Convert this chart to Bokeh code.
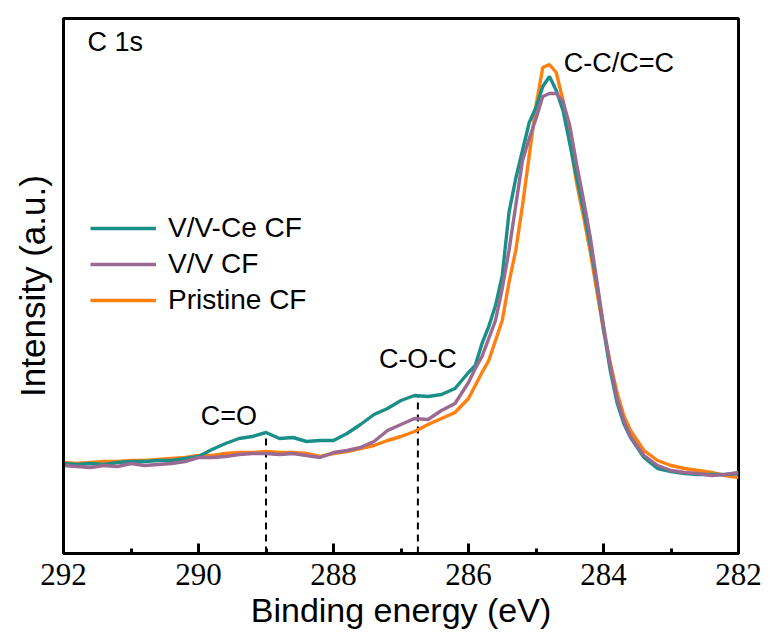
from bokeh.plotting import figure
from bokeh.models import Range1d, FixedTicker, Legend, LegendItem, Label, Segment, ColumnDataSource
from bokeh.embed import file_html
from bokeh.resources import INLINE

# ---- data ----
energy = [292.0, 291.8, 291.6, 291.4, 291.2, 291.0, 290.8, 290.6, 290.4, 290.2,
          290.0, 289.8, 289.6, 289.4, 289.2, 289.0, 288.8, 288.6, 288.4, 288.2,
          288.0, 287.8, 287.6, 287.4, 287.2, 287.0, 286.8, 286.6, 286.4, 286.2,
          286.0, 285.9, 285.8, 285.7, 285.6, 285.5, 285.4, 285.3, 285.2, 285.1,
          285.0, 284.9, 284.8, 284.7, 284.6, 284.5, 284.4, 284.3, 284.2, 284.1,
          284.0, 283.9, 283.8, 283.7, 283.6, 283.4, 283.2, 283.0, 282.8, 282.6,
          282.4, 282.2, 282.0]

v_ce_cf = [90, 89, 90, 89, 91, 92, 92, 93, 93, 95,
           97, 104, 110, 115, 117, 121, 115, 116, 112, 113,
           113, 120, 129, 139, 145, 153, 158, 157, 159, 165,
           181, 188, 210, 227, 248, 278, 341, 375, 403, 431,
           446, 467, 477, 463, 443, 410, 377, 345, 310, 270,
           225, 183, 151, 130, 116, 96, 85, 82, 80, 79,
           79, 79, 80]

v_cf = [88, 87, 86, 88, 87, 90, 88, 89, 90, 92,
        96, 96, 97, 99, 100, 100, 99, 100, 98, 96,
        101, 103, 106, 112, 123, 129, 135, 134, 143, 150,
        171, 185, 197, 215, 233, 265, 303, 348, 393, 415,
        435, 457, 460, 460, 452, 428, 390, 355, 318, 273,
        228, 188, 155, 133, 117, 98, 88, 83, 81, 80,
        78, 79, 81]

pristine_cf = [91, 90, 91, 92, 92, 93, 93, 94, 95, 96,
               98, 98, 100, 101, 101, 102, 101, 101, 100, 97,
               100, 102, 105, 108, 113, 117, 122, 129, 135, 141,
               155, 168, 181, 193, 213, 233, 271, 303, 348, 398,
               448, 486, 489, 481, 453, 413, 371, 338, 303, 263,
               223, 191, 161, 138, 123, 103, 93, 88, 85, 83,
               81, 78, 76]

series_names = ["V/V-Ce CF", "V/V CF", "Pristine CF"]
series_colors = ["#1a8f89", "#9a6a93", "#ff8010"]

peak_pos = [289.0, 286.75]
peak_top = [121, 159]
peak_names = ["C=O", "C-O-C"]

x_ticks = [292, 290, 288, 286, 284, 282]
x_minor = [291, 289, 287, 285, 283]

FONT = "Liberation Sans"
NARROW = "Liberation Sans Narrow"

p = figure(width=770, height=642, output_backend="svg", toolbar_location=None,
           x_range=Range1d(292, 282), y_range=Range1d(0, 535),
           min_border_left=63, min_border_right=32, min_border_top=18, min_border_bottom=89)
p.background_fill_color = "white"
p.border_fill_color = "white"
p.grid.visible = False
p.outline_line_color = "black"
p.outline_line_width = 3

# x axis
xa = p.xaxis[0]
xa.ticker = FixedTicker(ticks=x_ticks, minor_ticks=x_minor)
xa.axis_line_color = "black"
xa.axis_line_width = 3
xa.major_tick_in = 10
xa.major_tick_out = 0
xa.minor_tick_in = 5
xa.minor_tick_out = 0
xa.major_tick_line_width = 3
xa.minor_tick_line_width = 3
xa.major_label_text_font = NARROW
xa.major_label_text_font_size = "31px"
xa.major_label_text_color = "black"
xa.major_label_standoff = 10
xa.axis_label = "Binding energy (eV)"
xa.axis_label_text_font = FONT
xa.axis_label_text_font_size = "34px"
xa.axis_label_text_font_style = "normal"
xa.axis_label_text_color = "black"
xa.axis_label_standoff = 3

# y axis
ya = p.yaxis[0]
ya.ticker = FixedTicker(ticks=[])
ya.axis_line_color = "black"
ya.axis_line_width = 3
ya.major_label_text_font_size = "0px"
ya.axis_label = "Intensity (a.u.)"
ya.axis_label_text_font = FONT
ya.axis_label_text_font_size = "35px"
ya.axis_label_text_font_style = "normal"
ya.axis_label_text_color = "black"
ya.axis_label_standoff = 12

# dashed reference lines
dsrc = ColumnDataSource(dict(x=peak_pos, y0=[0, 0], y1=peak_top))
p.add_glyph(dsrc, Segment(x0="x", y0="y0", x1="x", y1="y1",
                          line_color="black", line_width=2, line_dash="7 5"))

# curves (drawn so that purple is on top)
r_p = p.line(energy, pristine_cf, line_color=series_colors[2], line_width=3.4)
r_t = p.line(energy, v_ce_cf, line_color=series_colors[0], line_width=3.4)
r_v = p.line(energy, v_cf, line_color=series_colors[1], line_width=3.4)

legend = Legend(items=[LegendItem(label=series_names[0], renderers=[r_t]),
                       LegendItem(label=series_names[1], renderers=[r_v]),
                       LegendItem(label=series_names[2], renderers=[r_p])],
                location=(27, 237), orientation="vertical",
                glyph_width=66, glyph_height=30, label_height=30, spacing=4,
                label_standoff=12, padding=0, margin=0,
                label_text_font=FONT, label_text_font_size="28px",
                label_text_color="black",
                border_line_alpha=0, background_fill_alpha=0)
p.add_layout(legend)

# annotations
ANN = "27px"
p.add_layout(Label(x=24, y=512, x_units="screen", y_units="screen", text="C 1s",
                   text_font=FONT, text_font_size=ANN, text_color="black",
                   text_baseline="alphabetic"))
p.add_layout(Label(x=284.9, y=491, text="C-C/C=C", x_offset=21,
                   text_font=FONT, text_font_size=ANN, text_color="black",
                   text_baseline="alphabetic"))
p.add_layout(Label(x=289.55, y=138, text=peak_names[0], text_align="center",
                   text_font=FONT, text_font_size=ANN, text_color="black",
                   text_baseline="alphabetic"))
p.add_layout(Label(x=peak_pos[1], y=195, text=peak_names[1], text_align="center",
                   text_font=FONT, text_font_size=ANN, text_color="black",
                   text_baseline="alphabetic"))

open("out.html", "w").write(file_html(p, INLINE))
